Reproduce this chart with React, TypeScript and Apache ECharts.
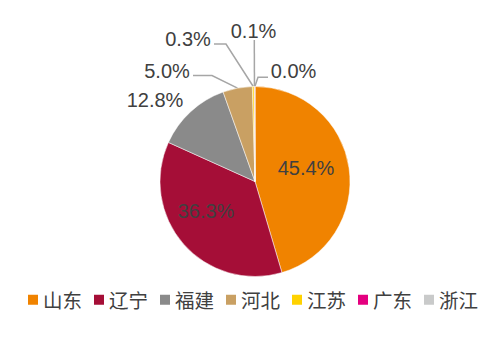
import React, { useEffect, useRef } from "react";
import * as echarts from "echarts";

const provinces = ["山东", "辽宁", "福建", "河北", "江苏", "广东", "浙江"];
const shares = [45.4, 36.3, 12.8, 5.0, 0.3, 0.1, 0.04];
const shareLabels = ["45.4%", "36.3%", "12.8%", "5.0%", "0.3%", "0.1%", "0.0%"];
const colors = ["#F08300", "#A50E37", "#8A8A8A", "#C9A063", "#FFD200", "#E4007F", "#C9CACA"];

// label anchor (center) positions and leader-line bends, per slice
const labelPos: [number, number][] = [
  [306, 168],
  [206, 211],
  [155, 100],
  [167, 70.5],
  [188, 38.5],
  [253.5, 31],
  [293.5, 71],
];
const linePts: ([number, number][] | null)[] = [
  null,
  null,
  null,
  [[212, 75.5], [193, 75.5]],
  [[226, 44], [214, 44]],
  [[254.3, 40]],
  [[258, 77.3], [268, 77.3]],
];

export default function App() {
  const ref = useRef<HTMLDivElement>(null);
  useEffect(() => {
    if (!ref.current) return;
    const chart = echarts.init(ref.current, null, { renderer: "svg" });
    const data = provinces.map((name, i) => ({
      name,
      value: shares[i],
      itemStyle: { color: colors[i] },
      label: {
        position: i < 2 ? "inside" : "outside",
        formatter: () => shareLabels[i],
      },
      labelLine: { show: !!linePts[i] },
    }));
    chart.setOption({
      animation: false,
      legend: {
        data: provinces,
        left: 28,
        top: 290,
        padding: 0,
        orient: "horizontal",
        itemWidth: 10,
        itemHeight: 10,
        itemGap: 12,
        icon: "rect",
        itemStyle: { borderWidth: 0 },
        textStyle: {
          fontSize: 19.5,
          color: "#404040",
          fontFamily: "Noto Sans CJK SC",
        },
      },
      series: [
        {
          type: "pie",
          center: [255, 181.5],
          radius: 95,
          startAngle: 90,
          clockwise: true,
          avoidLabelOverlap: false,
          itemStyle: { borderColor: "#ffffff", borderWidth: 0.5 },
          label: {
            fontSize: 20,
            color: "#404040",
            fontFamily: "Liberation Sans",
          },
          labelLine: {
            length: 10,
            length2: 10,
            lineStyle: { color: "#A6A6A6", width: 1.5 },
          },
          emphasis: { disabled: true },
          labelLayout: (params: any) => {
            const i = params.dataIndex;
            const p = labelPos[i];
            const res: any = {
              x: p[0],
              y: p[1],
              align: "center",
              verticalAlign: "middle",
            };
            const bends = linePts[i];
            if (bends) {
              const start =
                params.labelLinePoints && params.labelLinePoints[0]
                  ? params.labelLinePoints[0]
                  : [params.rect.x + params.rect.width / 2, params.rect.y];
              res.labelLinePoints = [start, ...bends];
            }
            return res;
          },
          data,
        },
      ],
    });
    return () => chart.dispose();
  }, []);
  return (
    <div
      ref={ref}
      style={{ position: "fixed", left: 0, top: 0, width: 496, height: 356, background: "#fff" }}
    />
  );
}
